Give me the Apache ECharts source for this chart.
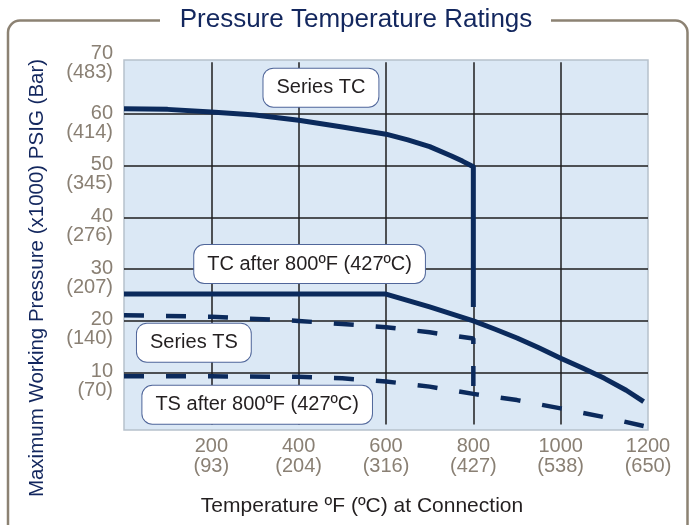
<!DOCTYPE html>
<html><head><meta charset="utf-8">
<script src="https://cdn.jsdelivr.net/npm/echarts@6/dist/echarts.min.js"></script>
<style>html,body{margin:0;padding:0;background:#fff}#c{width:694px;height:525px}</style>
</head><body><div id="c"></div>
<script>
// Tick labels
const xTicksF = [200, 400, 600, 800, 1000, 1200];
const xTicksC = ['93', '204', '316', '427', '538', '650'];
const yTicksPsi = [10, 20, 30, 40, 50, 60, 70];
const yTicksBar = ['70', '140', '207', '276', '345', '414', '483'];

// Series TC (solid)
const tcTemp  = [0, 100, 200, 300, 400, 500, 600, 650, 700, 750, 775, 800, 800];
const tcPress = [61.0, 60.9, 60.4, 59.8, 58.8, 57.5, 56.1, 55.0, 53.7, 51.9, 50.9, 49.8, 22.7];
// TC after 800F (solid)
const tcAfterTemp  = [0, 600, 700, 800, 850, 900, 950, 1000, 1050, 1100, 1150, 1190];
const tcAfterPress = [25.2, 25.2, 22.7, 20.0, 18.4, 16.7, 14.8, 12.8, 10.9, 8.9, 6.6, 4.4];
// Series TS (dashed)
const tsTemp  = [0, 200, 400, 500, 600, 700, 800, 800];
const tsPress = [21.1, 20.8, 20.0, 19.4, 18.8, 17.8, 16.6, 5.9];
// TS after 800F (dashed)
const tsAfterTemp  = [0, 200, 400, 500, 600, 700, 800, 900, 1000, 1100, 1190];
const tsAfterPress = [9.3, 9.3, 9.2, 8.9, 8.3, 7.3, 5.9, 4.7, 3.1, 1.4, -0.3];

const seriesNames = ['Series TC', 'TC after 800ºF (427ºC)', 'Series TS', 'TS after 800ºF (427ºC)'];

const zip = (a, b) => a.map((v, i) => [v, b[i]]);
const FONT = '"Liberation Sans", Arial, Helvetica, sans-serif';
const NAVY = '#0b2a5c';
const TICKC = '#8a8074';

const boxLabel = {
  show: true, position: 'inside', formatter: '{b}',
  backgroundColor: '#ffffff', borderColor: '#50669a', borderWidth: 1, borderRadius: 10,
  padding: [9, 13], color: '#231f20', fontFamily: FONT, fontSize: 20, lineHeight: 20
};

const chart = echarts.init(document.getElementById('c'), null, {renderer: 'canvas'});
chart.setOption({
  animation: false,
  backgroundColor: '#ffffff',
  grid: {left: 124, top: 62.3, width: 524, height: 362.1, containLabel: false},
  xAxis: {
    type: 'value', min: 0, max: 1200, interval: 200,
    axisLine: {show: false}, axisTick: {show: false},
    splitLine: {show: true, showMinLine: false, showMaxLine: false, lineStyle: {color: '#1e1e1e', width: 1.5}},
    axisLabel: {
      margin: 12, color: TICKC, fontFamily: FONT, fontSize: 20, lineHeight: 20,
      formatter: v => { const i = xTicksF.indexOf(v); return i < 0 ? '' : v + '\n(' + xTicksC[i] + ')'; }
    }
  },
  yAxis: {
    type: 'value', min: 0, max: 70, interval: 10,
    axisLine: {show: false}, axisTick: {show: false},
    splitLine: {show: true, showMinLine: false, showMaxLine: false, lineStyle: {color: '#1e1e1e', width: 1.5}},
    axisLabel: {
      margin: 11, padding: [17, 0, 0, 0],
      formatter: v => {
        const i = yTicksPsi.indexOf(v);
        if (i < 0) return '';
        if (v === 70) return '{n|' + v + '}\n{tb|(' + yTicksBar[i] + ')}';
        return '{n|' + v + '}\n{n|(' + yTicksBar[i] + ')}';
      },
      rich: {
        n: {color: TICKC, fontFamily: FONT, fontSize: 20, lineHeight: 19, align: 'right'},
        tb: {color: TICKC, fontFamily: FONT, fontSize: 20, lineHeight: 35, verticalAlign: 'top', align: 'right'}
      }
    }
  },
  graphic: [
    {type: 'rect', z: -10, shape: {x: 124, y: 60, width: 524, height: 370},
     style: {fill: '#dbe8f5', stroke: '#b7c1cc', lineWidth: 1.5}},
    {type: 'rect', z: 1, shape: {x: 8, y: 20.5, width: 679.5, height: 540, r: 12},
     style: {fill: 'none', stroke: '#8c8273', lineWidth: 2.5}},
    {type: 'rect', z: 2, shape: {x: 160, y: 8, width: 391, height: 24}, style: {fill: '#ffffff'}},
    {type: 'text', z: 3, x: 356, y: 20,
     style: {text: 'Pressure Temperature Ratings', font: '26px ' + FONT, fill: '#13275e',
             textAlign: 'center', textVerticalAlign: 'middle', align: 'center', verticalAlign: 'middle'}},
    {type: 'text', z: 3, x: 37, y: 278, rotation: Math.PI / 2,
     style: {text: 'Maximum Working Pressure (x1000) PSIG (Bar)', font: '20.5px ' + FONT, fill: '#13275e',
             textAlign: 'center', textVerticalAlign: 'middle', align: 'center', verticalAlign: 'middle'}},
    {type: 'text', z: 3, x: 362, y: 506,
     style: {text: 'Temperature ºF (ºC) at Connection', font: '21px ' + FONT, fill: '#231f20',
             textAlign: 'center', textVerticalAlign: 'middle', align: 'center', verticalAlign: 'middle'}}
  ],
  series: [
    {type: 'line', name: seriesNames[0], data: zip(tcTemp, tcPress), symbol: 'none', clip: false, z: 5,
     lineStyle: {color: NAVY, width: 5, join: 'round'},
     markPoint: {symbol: 'rect', symbolSize: 0, silent: true, label: boxLabel,
       data: [
         {name: seriesNames[0], coord: [451, 65.1]},
         {name: seriesNames[1], coord: [425, 31.0]},
         {name: seriesNames[2], coord: [160, 15.8]},
         {name: seriesNames[3], coord: [305, 3.8]}
       ]}},
    {type: 'line', name: seriesNames[1], data: zip(tcAfterTemp, tcAfterPress), symbol: 'none', clip: false, z: 5,
     lineStyle: {color: NAVY, width: 5, join: 'round'}},
    {type: 'line', name: seriesNames[2], data: zip(tsTemp, tsPress), symbol: 'none', clip: false, z: 4,
     lineStyle: {color: NAVY, width: 4.5, type: [20, 22], cap: 'butt'}},
    {type: 'line', name: seriesNames[3], data: zip(tsAfterTemp, tsAfterPress), symbol: 'none', clip: false, z: 4,
     lineStyle: {color: NAVY, width: 4.5, type: [20, 22], cap: 'butt'}}
  ]
});
</script>
</body></html>
